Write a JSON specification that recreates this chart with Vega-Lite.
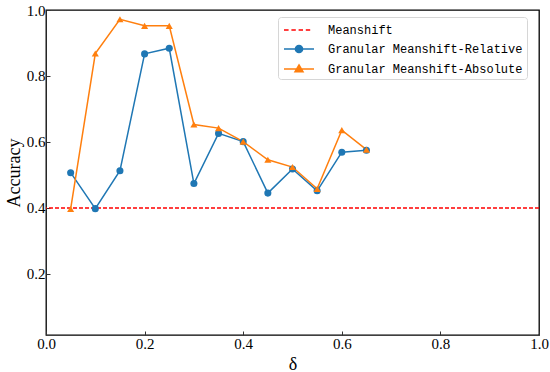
{
  "$schema": "https://vega.github.io/schema/vega-lite/v6.json",
  "autosize": {"type": "none"},
  "width": 493,
  "height": 325,
  "padding": {"left": 46, "top": 10, "right": 11, "bottom": 37},
  "background": "white",
  "config": {
    "view": {"stroke": "#000000", "strokeWidth": 1.3},
    "axis": {
      "grid": false,
      "domain": false,
      "tickColor": "#333333",
      "tickSize": -4,
      "tickWidth": 1,
      "labelFont": "Liberation Serif",
      "labelFontSize": 15,
      "labelColor": "#000000",
      "titleFont": "Liberation Serif",
      "titleFontSize": 18,
      "titleFontWeight": "normal",
      "titleColor": "#000000"
    }
  },
  "datasets": {
    "acc": [
      {"delta": 0.05, "acc": 0.507, "series": "Granular Meanshift-Relative"},
      {"delta": 0.10, "acc": 0.398, "series": "Granular Meanshift-Relative"},
      {"delta": 0.15, "acc": 0.513, "series": "Granular Meanshift-Relative"},
      {"delta": 0.20, "acc": 0.867, "series": "Granular Meanshift-Relative"},
      {"delta": 0.25, "acc": 0.884, "series": "Granular Meanshift-Relative"},
      {"delta": 0.30, "acc": 0.474, "series": "Granular Meanshift-Relative"},
      {"delta": 0.35, "acc": 0.626, "series": "Granular Meanshift-Relative"},
      {"delta": 0.40, "acc": 0.601, "series": "Granular Meanshift-Relative"},
      {"delta": 0.45, "acc": 0.445, "series": "Granular Meanshift-Relative"},
      {"delta": 0.50, "acc": 0.518, "series": "Granular Meanshift-Relative"},
      {"delta": 0.55, "acc": 0.452, "series": "Granular Meanshift-Relative"},
      {"delta": 0.60, "acc": 0.569, "series": "Granular Meanshift-Relative"},
      {"delta": 0.65, "acc": 0.575, "series": "Granular Meanshift-Relative"},
      {"delta": 0.05, "acc": 0.397, "series": "Granular Meanshift-Absolute"},
      {"delta": 0.10, "acc": 0.868, "series": "Granular Meanshift-Absolute"},
      {"delta": 0.15, "acc": 0.972, "series": "Granular Meanshift-Absolute"},
      {"delta": 0.20, "acc": 0.952, "series": "Granular Meanshift-Absolute"},
      {"delta": 0.25, "acc": 0.952, "series": "Granular Meanshift-Absolute"},
      {"delta": 0.30, "acc": 0.653, "series": "Granular Meanshift-Absolute"},
      {"delta": 0.35, "acc": 0.642, "series": "Granular Meanshift-Absolute"},
      {"delta": 0.40, "acc": 0.601, "series": "Granular Meanshift-Absolute"},
      {"delta": 0.45, "acc": 0.546, "series": "Granular Meanshift-Absolute"},
      {"delta": 0.50, "acc": 0.524, "series": "Granular Meanshift-Absolute"},
      {"delta": 0.55, "acc": 0.458, "series": "Granular Meanshift-Absolute"},
      {"delta": 0.60, "acc": 0.636, "series": "Granular Meanshift-Absolute"},
      {"delta": 0.65, "acc": 0.577, "series": "Granular Meanshift-Absolute"}
    ],
    "base": [{"acc": 0.4, "series": "Meanshift"}]
  },
  "layer": [
    {
      "data": {"name": "base"},
      "mark": {"type": "rule", "color": "#ff0000", "strokeWidth": 1.5, "strokeDash": [4, 2]},
      "encoding": {
        "y": {"field": "acc", "type": "quantitative", "scale": {"domain": [0.015, 1.0], "nice": false, "zero": false}}
      }
    },
    {
      "data": {"name": "acc"},
      "mark": {"type": "line", "strokeWidth": 1.5},
      "encoding": {
        "x": {
          "field": "delta", "type": "quantitative", "title": "δ",
          "scale": {"domain": [0, 1], "nice": false},
          "axis": {"values": [0, 0.2, 0.4, 0.6, 0.8, 1.0], "format": ".1f", "labelPadding": 5, "titlePadding": 4, "labelFlush": false}
        },
        "y": {
          "field": "acc", "type": "quantitative", "title": "Accuracy",
          "scale": {"domain": [0.015, 1.0], "nice": false, "zero": false},
          "axis": {"values": [0.2, 0.4, 0.6, 0.8, 1.0], "format": ".1f", "labelPadding": 5, "titlePadding": 3, "labelFlush": false}
        },
        "color": {
          "field": "series", "type": "nominal",
          "scale": {
            "domain": ["Meanshift", "Granular Meanshift-Relative", "Granular Meanshift-Absolute"],
            "range": ["#ff0000", "#1f77b4", "#ff7f0e"]
          },
          "legend": {
            "title": null,
            "orient": "none",
            "legendX": 232,
            "legendY": 7,
            "direction": "vertical",
            "fillColor": "rgba(255,255,255,0.85)",
            "strokeColor": "#d6d6d6",
            "cornerRadius": 3,
            "padding": 4,
            "rowPadding": 4,
            "symbolSize": 256,
            "labelOffset": 28,
            "labelFont": "Liberation Mono",
            "labelFontSize": 12,
            "labelColor": "#000000",
            "labelLimit": 400,
            "encode": {
              "symbols": {
                "update": {
                  "shape": {"signal": "datum.value === 'Meanshift' ? 'M-0.875,0H-0.3M0.05,0H0.6M0.95,0H1.5M1.85,0H2.4' : (datum.value === 'Granular Meanshift-Relative' ? 'M-0.875,0H2.875M0.55,0A0.45,0.45,0,1,1,1.45,0A0.45,0.45,0,1,1,0.55,0Z' : 'M-0.875,0H2.875M1,-0.5L1.5,0.35L0.5,0.35Z')"},
                  "stroke": {"scale": "color", "field": "value"},
                  "fill": {"signal": "datum.value === 'Meanshift' ? 'transparent' : scale('color', datum.value)"},
                  "strokeWidth": {"value": 1.5},
                  "opacity": {"value": 1}
                }
              }
            }
          }
        },
        "order": {"field": "delta"}
      }
    },
    {
      "data": {"name": "acc"},
      "mark": {"type": "point", "filled": true, "size": 50, "opacity": 1},
      "encoding": {
        "x": {"field": "delta", "type": "quantitative"},
        "y": {"field": "acc", "type": "quantitative"},
        "color": {"field": "series", "type": "nominal", "legend": null},
        "shape": {
          "field": "series", "type": "nominal",
          "scale": {"domain": ["Granular Meanshift-Relative", "Granular Meanshift-Absolute"], "range": ["circle", "triangle-up"]},
          "legend": null
        }
      }
    }
  ]
}
